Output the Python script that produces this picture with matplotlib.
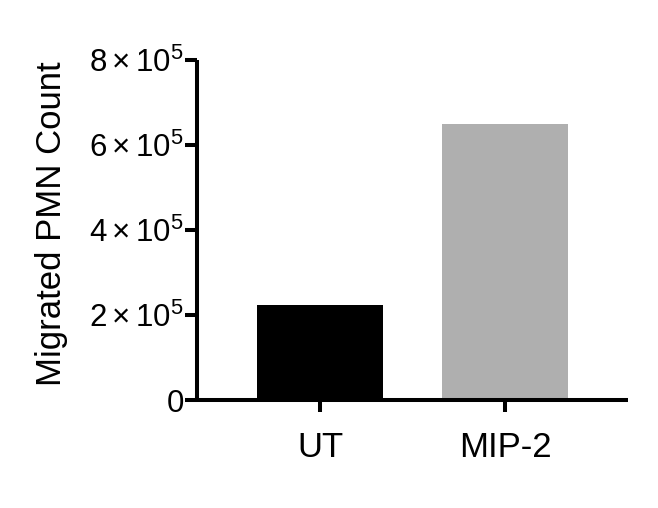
import matplotlib
matplotlib.use("Agg")
from matplotlib import pyplot as plt

groups = ["UT", "MIP-2"]
counts = [2.24e5, 6.49e5]
colors = ["#000000", "#afafaf"]
ytick_vals = [0, 2e5, 4e5, 6e5, 8e5]
ytick_text = ["0", r"$2\times10^{5}$", r"$4\times10^{5}$", r"$6\times10^{5}$", r"$8\times10^{5}$"]

plt.rcParams["font.family"] = ["Liberation Sans", "DejaVu Sans"]
plt.rcParams["mathtext.fontset"] = "custom"
plt.rcParams["mathtext.rm"] = "Liberation Sans"
plt.rcParams["mathtext.it"] = "Liberation Sans"
plt.rcParams["mathtext.bf"] = "Liberation Sans"

fig = plt.figure(figsize=(6.58, 5.08), dpi=100)
ax = fig.add_axes([197 / 658, 1 - 400 / 508, 431 / 658, 340 / 508])

x = list(range(len(groups)))
ax.bar(x, counts, width=0.68, color=colors, linewidth=0)

ax.set_xlim(-0.665, 1.665)
ax.set_ylim(0, 8e5)
ax.set_yticks(ytick_vals)
ax.set_yticklabels(ytick_text)
ax.set_xticks(x)
ax.set_xticklabels(groups)

for side in ["top", "right"]:
    ax.spines[side].set_visible(False)
for side in ["left", "bottom"]:
    ax.spines[side].set_linewidth(2.9)
    ax.spines[side].set_capstyle("butt")

ax.tick_params(axis="y", length=8.6, width=2.9, pad=1, labelsize=22.5)
ax.tick_params(axis="x", length=8.6, width=2.9, pad=14, labelsize=25)
ax.set_ylabel("Migrated PMN Count", fontsize=25)
ax.yaxis.set_label_coords(-0.30, 0.52)

fig.savefig("out.png", dpi=100)
